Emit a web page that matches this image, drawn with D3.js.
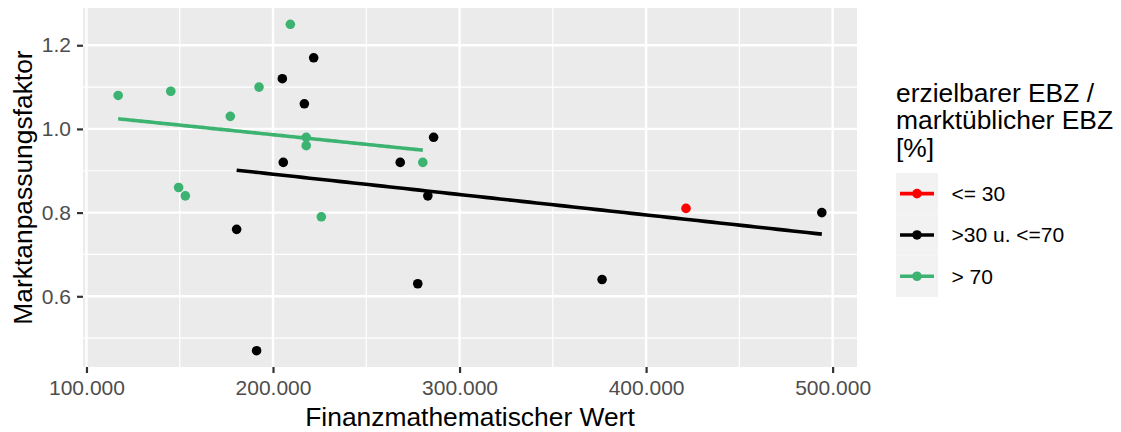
<!DOCTYPE html>
<html>
<head>
<meta charset="utf-8">
<script src="https://cdn.jsdelivr.net/npm/d3@7"></script>
<style>
  html, body { margin: 0; padding: 0; background: #ffffff; }
  svg { display: block; font-family: "Liberation Sans", Arial, sans-serif; }
</style>
</head>
<body>
<svg id="chart" width="1121" height="432"></svg>
<script>
// ---- data ----
const groups = ["<= 30", ">30 u. <=70", "> 70"];
const groupColors = ["#FF0000", "#000000", "#3CB371"];

const redX = [421400];
const redY = [0.81];

const blackX = [205000, 205500, 221800, 216800, 286100, 268200, 283000, 180500, 191200, 277600, 376400, 494200];
const blackY = [1.12, 0.92, 1.17, 1.06, 0.98, 0.92, 0.84, 0.76, 0.47, 0.63, 0.64, 0.80];

const greenX = [117000, 145200, 149400, 153000, 177100, 192500, 209300, 217800, 217800, 225900, 280300];
const greenY = [1.08, 1.09, 0.86, 0.84, 1.03, 1.10, 1.25, 0.98, 0.96, 0.79, 0.92];

const xTicks = [100000, 200000, 300000, 400000, 500000];
const xMinor = [150000, 250000, 350000, 450000];
const yTicks = [0.6, 0.8, 1.0, 1.2];
const yMinor = [0.5, 0.7, 0.9, 1.1];

const xTitle = "Finanzmathematischer Wert";
const yTitle = "Marktanpassungsfaktor";
const legendTitle = ["erzielbarer EBZ /", "marktüblicher EBZ", "[%]"];

// ---- build ----
const series = [
  { name: groups[0], color: groupColors[0], pts: redX.map((x, i) => [x, redY[i]]) },
  { name: groups[1], color: groupColors[1], pts: blackX.map((x, i) => [x, blackY[i]]) },
  { name: groups[2], color: groupColors[2], pts: greenX.map((x, i) => [x, greenY[i]]) }
];

const svg = d3.select("#chart");
const panel = { left: 83, right: 857, top: 8, bottom: 367 };

const allX = [...redX, ...blackX, ...greenX];
const allY = [...redY, ...blackY, ...greenY];
const [x0, x1] = d3.extent(allX);
const [y0, y1] = d3.extent(allY);
const ex = (x1 - x0) * 0.05, ey = (y1 - y0) * 0.05;

const x = d3.scaleLinear().domain([x0 - ex, x1 + ex]).range([panel.left, panel.right]);
const y = d3.scaleLinear().domain([y0 - ey, y1 + ey]).range([panel.bottom, panel.top]);

// panel background
svg.append("rect")
  .attr("x", panel.left).attr("y", panel.top)
  .attr("width", panel.right - panel.left).attr("height", panel.bottom - panel.top)
  .attr("fill", "#EBEBEB");

const grid = svg.append("g");
// minor grid
grid.selectAll(".xm").data(xMinor).join("line")
  .attr("x1", d => x(d)).attr("x2", d => x(d))
  .attr("y1", panel.top).attr("y2", panel.bottom)
  .attr("stroke", "#fff").attr("stroke-width", 1.2);
grid.selectAll(".ym").data(yMinor).join("line")
  .attr("y1", d => y(d)).attr("y2", d => y(d))
  .attr("x1", panel.left).attr("x2", panel.right)
  .attr("stroke", "#fff").attr("stroke-width", 1.2);
// major grid
grid.selectAll(".xM").data(xTicks).join("line")
  .attr("x1", d => x(d)).attr("x2", d => x(d))
  .attr("y1", panel.top).attr("y2", panel.bottom)
  .attr("stroke", "#fff").attr("stroke-width", 2.4);
grid.selectAll(".yM").data(yTicks).join("line")
  .attr("y1", d => y(d)).attr("y2", d => y(d))
  .attr("x1", panel.left).attr("x2", panel.right)
  .attr("stroke", "#fff").attr("stroke-width", 2.4);

// points
series.forEach(s => {
  svg.append("g").selectAll("circle").data(s.pts).join("circle")
    .attr("cx", d => x(d[0])).attr("cy", d => y(d[1]))
    .attr("r", 4.8).attr("fill", s.color);
});

// regression lines (lm)
function lm(pts) {
  const mx = d3.mean(pts, d => d[0]), my = d3.mean(pts, d => d[1]);
  const sxy = d3.sum(pts, d => (d[0] - mx) * (d[1] - my));
  const sxx = d3.sum(pts, d => (d[0] - mx) ** 2);
  const b = sxy / sxx, a = my - b * mx;
  const [lo, hi] = d3.extent(pts, d => d[0]);
  return d3.range(0, 81).map(i => { const xv = lo + (hi - lo) * i / 80; return [xv, a + b * xv]; });
}
const line = d3.line().x(d => x(d[0])).y(d => y(d[1]));
series.forEach(s => {
  if (s.pts.length < 2) return;
  svg.append("path").attr("d", line(lm(s.pts)))
    .attr("fill", "none").attr("stroke", s.color).attr("stroke-width", 3.6);
});

// axes
const deLocale = d3.formatLocale({ decimal: ",", thousands: ".", grouping: [3], currency: ["", "€"] });
const fmtX = deLocale.format(",.0f");
const fmtY = d3.format(".1f");

const xAxis = svg.append("g").attr("transform", `translate(0,${panel.bottom})`)
  .call(d3.axisBottom(x).tickValues(xTicks).tickFormat(fmtX).tickSize(6).tickPadding(7));
const yAxis = svg.append("g").attr("transform", `translate(${panel.left},0)`)
  .call(d3.axisLeft(y).tickValues(yTicks).tickFormat(fmtY).tickSize(6).tickPadding(6));
[xAxis, yAxis].forEach(g => {
  g.select(".domain").remove();
  g.selectAll(".tick line").attr("stroke", "#333333").attr("stroke-width", 2.2);
  g.selectAll(".tick text").attr("fill", "#4D4D4D").style("font-size", "21px")
    .style("font-family", "'Liberation Sans', Arial, sans-serif");
});
xAxis.selectAll(".tick text").attr("dy", "0.71em");

// axis titles
svg.append("text").attr("x", (panel.left + panel.right) / 2).attr("y", 426)
  .attr("text-anchor", "middle").style("font-size", "26.4px").attr("fill", "#000")
  .text(xTitle);
svg.append("text").attr("transform", `translate(32,${(panel.top + panel.bottom) / 2}) rotate(-90)`)
  .attr("text-anchor", "middle").style("font-size", "26.4px").attr("fill", "#000")
  .text(yTitle);

// legend
const lg = svg.append("g");
lg.selectAll("text.title").data(legendTitle).join("text")
  .attr("x", 896).attr("y", (d, i) => 101.5 + i * 27.6)
  .style("font-size", "26.4px").attr("fill", "#000").text(d => d);

const keyTop = 173, keyH = 41.3, keyL = 896, keyW = 42;
series.forEach((s, i) => {
  const cy = keyTop + keyH * i + keyH / 2;
  lg.append("rect").attr("x", keyL).attr("y", keyTop + keyH * i)
    .attr("width", keyW).attr("height", keyH).attr("fill", "#F2F2F2");
  lg.append("line").attr("x1", keyL + 4).attr("x2", keyL + keyW - 4)
    .attr("y1", cy).attr("y2", cy).attr("stroke", s.color).attr("stroke-width", 3.6);
  lg.append("circle").attr("cx", keyL + keyW / 2).attr("cy", cy).attr("r", 4.8).attr("fill", s.color);
  lg.append("text").attr("x", 951.5).attr("y", cy).attr("dy", "0.35em")
    .style("font-size", "21px").attr("fill", "#000").text(s.name);
});
</script>
</body>
</html>
